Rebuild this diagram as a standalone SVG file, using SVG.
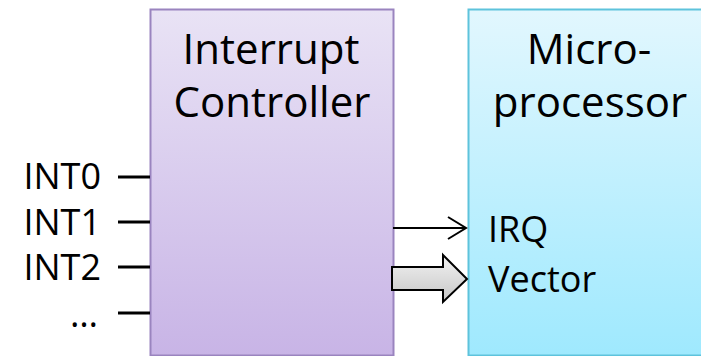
<svg xmlns="http://www.w3.org/2000/svg" width="701" height="356" viewBox="0 0 701 356">
<style>
text{font-family:"Open Sans","Noto Sans","DejaVu Sans",sans-serif;fill:#000}
.big{font-size:42px;text-anchor:middle}
.sig{font-size:36px}
.wire{stroke:#000;stroke-width:3;fill:none}
</style>
<defs>
<linearGradient id="gp" x1="0" y1="0" x2="0" y2="1">
<stop offset="0" stop-color="#e9e3f5"/>
<stop offset="1" stop-color="#c8b4e6"/>
</linearGradient>
<linearGradient id="gb" x1="0" y1="0" x2="0" y2="1">
<stop offset="0" stop-color="#e2f7fe"/>
<stop offset="1" stop-color="#9fe9fe"/>
</linearGradient>
<linearGradient id="ga" x1="0" y1="0" x2="0" y2="1">
<stop offset="0" stop-color="#f2f2f2"/>
<stop offset="1" stop-color="#c6c6c6"/>
</linearGradient>
</defs>
<g id="controller">
<rect x="150.5" y="9.5" width="243" height="346" fill="url(#gp)" stroke="#9a84bf" stroke-width="2"/>
<text class="big" x="271" y="64">Interrupt</text>
<text class="big" x="272" y="117">Controller</text>
</g>
<g id="microprocessor">
<rect x="468.5" y="9.5" width="243" height="346" fill="url(#gb)" stroke="#5ec3dc" stroke-width="2"/>
<text class="big" x="589" y="64">Micro-</text>
<text class="big" x="590" y="117">processor</text>
<text class="sig" x="488" y="242">IRQ</text>
<text class="sig" x="488" y="292">Vector</text>
</g>
<g id="inputs">
<text class="sig" x="101" y="189" text-anchor="end">INT0</text>
<text class="sig" x="101" y="235" text-anchor="end">INT1</text>
<text class="sig" x="101" y="280" text-anchor="end">INT2</text>
<text class="sig" x="98" y="327" text-anchor="end">…</text>
</g>
<g id="connectors">
<line class="wire" x1="118" y1="177" x2="150" y2="177"/>
<line class="wire" x1="118" y1="222" x2="150" y2="222"/>
<line class="wire" x1="118" y1="267" x2="150" y2="267"/>
<line class="wire" x1="118" y1="313" x2="150" y2="313"/>
<line x1="393" y1="228" x2="466" y2="228" stroke="#000" stroke-width="2"/>
<polyline points="448,217 466,228 448,239" fill="none" stroke="#000" stroke-width="2"/>
<polygon points="392,267 443,267 443,255 467,279 443,302 443,290 392,290" fill="url(#ga)" stroke="#000" stroke-width="2" stroke-linejoin="miter"/>
</g>
</svg>
